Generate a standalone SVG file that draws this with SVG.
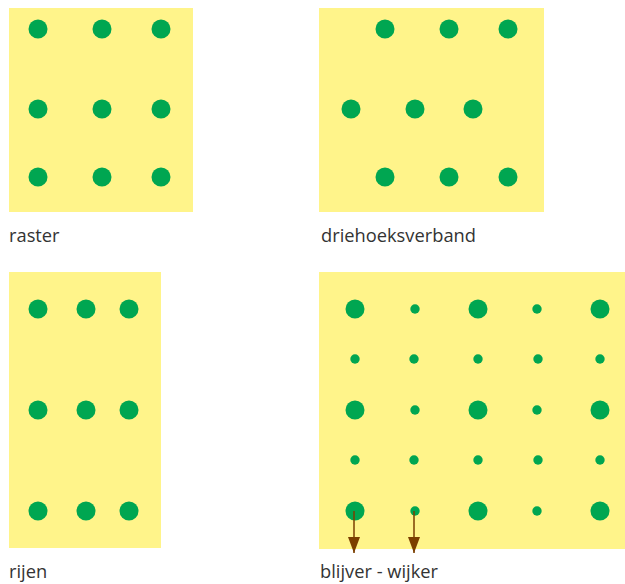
<svg xmlns="http://www.w3.org/2000/svg" width="625" height="584" viewBox="0 0 625 584">
<defs>
<style>
.bg{fill:#fff48a}
.d{fill:#00a651}
.lbl{font-family:"Open Sans","Noto Sans",sans-serif;font-size:18.3px;fill:#333}
.arr{stroke:#7b3f00;stroke-width:1.5;fill:none}
.ah{fill:#7b3f00}
</style>
<marker id="ah" markerWidth="16" markerHeight="12" refX="16" refY="6" orient="auto" markerUnits="userSpaceOnUse" viewBox="0 0 16 12"><path class="ah" d="M0,0 L16,6 L0,12 Z"/></marker>
</defs>
<rect width="625" height="584" fill="#fff"/>
<g id="raster">
<rect class="bg" x="9" y="8" width="184" height="204"/>
<circle class="d" cx="38" cy="29" r="9.5"/><circle class="d" cx="102" cy="29" r="9.5"/><circle class="d" cx="161" cy="29" r="9.5"/>
<circle class="d" cx="38" cy="109" r="9.5"/><circle class="d" cx="102" cy="109" r="9.5"/><circle class="d" cx="161" cy="109" r="9.5"/>
<circle class="d" cx="38" cy="177" r="9.5"/><circle class="d" cx="102" cy="177" r="9.5"/><circle class="d" cx="161" cy="177" r="9.5"/>
<text class="lbl" x="9" y="242">raster</text>
</g>
<g id="driehoeksverband">
<rect class="bg" x="319" y="8" width="225" height="204"/>
<circle class="d" cx="385" cy="29" r="9.5"/><circle class="d" cx="449" cy="29" r="9.5"/><circle class="d" cx="508" cy="29" r="9.5"/>
<circle class="d" cx="351" cy="109" r="9.5"/><circle class="d" cx="415" cy="109" r="9.5"/><circle class="d" cx="473" cy="109" r="9.5"/>
<circle class="d" cx="385" cy="177" r="9.5"/><circle class="d" cx="449" cy="177" r="9.5"/><circle class="d" cx="508" cy="177" r="9.5"/>
<text class="lbl" x="321" y="242">driehoeksverband</text>
</g>
<g id="rijen">
<rect class="bg" x="9" y="272" width="152" height="276"/>
<circle class="d" cx="38" cy="309" r="9.5"/><circle class="d" cx="86" cy="309" r="9.5"/><circle class="d" cx="129" cy="309" r="9.5"/>
<circle class="d" cx="38" cy="410" r="9.5"/><circle class="d" cx="86" cy="410" r="9.5"/><circle class="d" cx="129" cy="410" r="9.5"/>
<circle class="d" cx="38" cy="511" r="9.5"/><circle class="d" cx="86" cy="511" r="9.5"/><circle class="d" cx="129" cy="511" r="9.5"/>
<text class="lbl" x="9" y="578">rijen</text>
</g>
<g id="blijver-wijker">
<rect class="bg" x="319" y="272" width="306" height="277"/>
<circle class="d" cx="355" cy="309" r="9.5"/><circle class="d" cx="415" cy="309" r="4.7"/><circle class="d" cx="478" cy="309" r="9.5"/><circle class="d" cx="537" cy="309" r="4.7"/><circle class="d" cx="600" cy="309" r="9.5"/>
<circle class="d" cx="355" cy="359" r="4.7"/><circle class="d" cx="414" cy="359" r="4.7"/><circle class="d" cx="478" cy="359" r="4.7"/><circle class="d" cx="538" cy="359" r="4.7"/><circle class="d" cx="600" cy="359" r="4.7"/>
<circle class="d" cx="355" cy="410" r="9.5"/><circle class="d" cx="415" cy="410" r="4.7"/><circle class="d" cx="478" cy="410" r="9.5"/><circle class="d" cx="537" cy="410" r="4.7"/><circle class="d" cx="600" cy="410" r="9.5"/>
<circle class="d" cx="355" cy="460" r="4.7"/><circle class="d" cx="414" cy="460" r="4.7"/><circle class="d" cx="478" cy="460" r="4.7"/><circle class="d" cx="538" cy="460" r="4.7"/><circle class="d" cx="600" cy="460" r="4.7"/>
<circle class="d" cx="355" cy="511" r="9.5"/><circle class="d" cx="415" cy="511" r="4.7"/><circle class="d" cx="478" cy="511" r="9.5"/><circle class="d" cx="537" cy="511" r="4.7"/><circle class="d" cx="600" cy="511" r="9.5"/>
<text class="lbl" x="320" y="578">blijver - wijker</text>
</g>
<g id="connectors">
<line class="arr" x1="354" y1="511" x2="354" y2="553" marker-end="url(#ah)"/>
<line class="arr" x1="414" y1="511" x2="414" y2="553" marker-end="url(#ah)"/>
</g>
</svg>
